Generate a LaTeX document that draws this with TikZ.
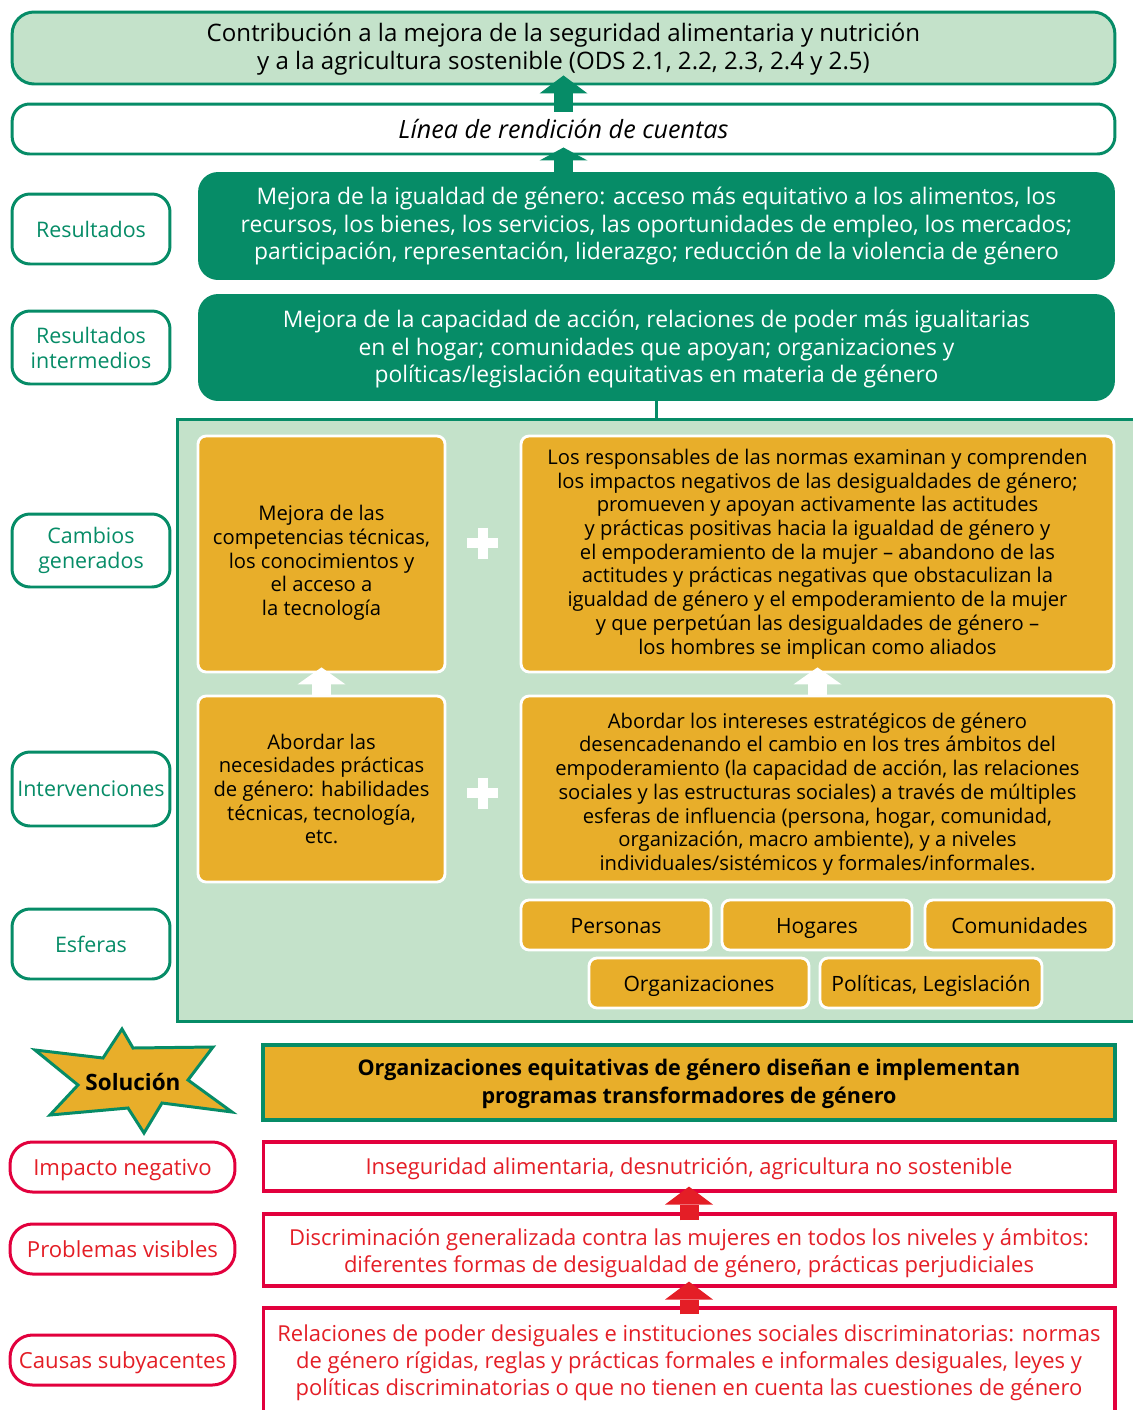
\documentclass[tikz,border=0pt]{standalone}
\usepackage{fontspec}
\setmainfont{Open Sans}
\usetikzlibrary{arrows.meta}

\definecolor{fgreen}{RGB}{6,140,103}
\definecolor{lgreen}{RGB}{196,226,202}
\definecolor{forange}{RGB}{232,174,42}
\definecolor{fred}{RGB}{226,0,61}
\definecolor{tred}{RGB}{228,30,38}

\tikzset{
  tagbox/.style={draw=fgreen, line width=1.7pt, fill=white, rounded corners=0.36cm, text=fgreen,
    minimum width=3.16cm, minimum height=1.4cm, font=\fontsize{12.2}{14.2}\selectfont},
  redtag/.style={draw=fred, line width=1.7pt, fill=white, rounded corners=0.45cm, text=tred,
    minimum width=4.5cm, minimum height=1cm, text height=1.9ex, text depth=0.2ex,
    font=\fontsize{12.6}{14.2}\selectfont},
  redbox/.style={draw=fred, line width=1.8pt, fill=white, text=tred,
    minimum width=17.04cm, font=\fontsize{12.5}{15.4}\selectfont},
  darkbox/.style={fill=fgreen, rounded corners=0.4cm, text=white,
    minimum width=18.34cm, font=\fontsize{13}{15.6}\selectfont},
  orbox/.style={fill=forange, draw=white, line width=1.6pt, rounded corners=0.16cm,
    font=\fontsize{11.5}{13.5}\selectfont},
  sphere/.style={orbox, minimum height=1cm, text height=1.9ex, text depth=0.2ex,
    font=\fontsize{12}{14}\selectfont},
  blockarrow/.style={line width=0.38cm, -{Triangle[width=0.96cm, length=#1, line width=0pt]}}
}

\begin{document}
\begin{tikzpicture}[x=0.02cm, y=-0.02cm, every node/.style={align=center, inner sep=2pt}]
\useasboundingbox (0,0) rectangle (1133,1410);

% background of the middle block
\node[fill=lgreen, minimum width=19.12cm, minimum height=12.06cm, inner sep=0pt, outer sep=0pt] (cbg) at (655,720.5) {};
\draw[fgreen, line width=1.7pt] (cbg.north east) -- (cbg.north west) -- (cbg.south west) -- (cbg.south east);

% top
\node[draw=fgreen, line width=1.7pt, fill=lgreen, rounded corners=0.44cm, minimum width=22.06cm,
  minimum height=1.44cm, font=\fontsize{13.7}{16}\selectfont] (goal) at (563.5,48)
  {\rule{0pt}{12pt}Contribución a la mejora de la seguridad alimentaria y nutrición\\
   y a la agricultura sostenible (ODS 2.1, 2.2, 2.3, 2.4 y 2.5)};
\node[draw=fgreen, line width=1.7pt, fill=white, rounded corners=0.35cm, minimum width=22.06cm,
  minimum height=1cm, font=\fontsize{14.3}{16}\selectfont\itshape] (acc) at (563.5,129)
  {Línea de rendición de cuentas};

% left labels
\node[tagbox] (tres) at (91,229) {Resultados};
\node[tagbox, minimum height=1.46cm] (tint) at (91,347.5) {Resultados\\ intermedios};
\node[tagbox, minimum height=1.46cm] (tcam) at (91,550.5) {Cambios\\ generados};
\node[tagbox, minimum height=1.48cm] (tinv) at (91,789) {Intervenciones};
\node[tagbox] (tesf) at (91,944) {Esferas};

% outcomes
\node[darkbox, minimum height=2.16cm] (res) at (656.5,226)
  {Mejora de la igualdad de género: acceso más equitativo a los alimentos, los\\
   recursos, los bienes, los servicios, las oportunidades de empleo, los mercados;\\
   participación, representación, liderazgo; reducción de la violencia de género};
\node[darkbox, minimum height=2.14cm] (resint) at (656.5,347.5)
  {\rule{0pt}{12pt}Mejora de la capacidad de acción, relaciones de poder más igualitarias\\
   en el hogar; comunidades que apoyan; organizaciones y\\
   políticas/legislación equitativas en materia de género};
\draw[fgreen, line width=1.7pt] (resint.south) -- (resint.south |- cbg.north);

\draw[fgreen, blockarrow=0.36cm] ([yshift=-0.18cm]acc.north) -- ([yshift=0.2cm]goal.south);
\draw[fgreen, blockarrow=0.26cm, shorten <=-0.1cm] (acc.south |- res.north) -- ([yshift=0.16cm]acc.south);

% changes and interventions
\node[orbox, minimum width=4.94cm, minimum height=4.72cm] (capac) at (321.5,554)
  {\rule{0pt}{19pt}Mejora de las\\ competencias técnicas,\\ los conocimientos y\\ el acceso a\\ la tecnología};
\node[orbox, minimum width=11.86cm, minimum height=4.72cm] (normas) at (817.5,554)
  {Los responsables de las normas examinan y comprenden\\
   los impactos negativos de las desigualdades de género;\\
   promueven y apoyan activamente las actitudes\\
   y prácticas positivas hacia la igualdad de género y\\
   el empoderamiento de la mujer – abandono de las\\
   actitudes y prácticas negativas que obstaculizan la\\
   igualdad de género y el empoderamiento de la mujer\\
   y que perpetúan las desigualdades de género –\\
   los hombres se implican como aliados};
\node[orbox, minimum width=4.94cm, minimum height=3.72cm] (practicas) at (321.5,789)
  {Abordar las\\ necesidades prácticas\\ de género: habilidades\\ técnicas, tecnología,\\ etc.};
\node[orbox, minimum width=11.86cm, minimum height=3.72cm] (estrat) at (817.5,789)
  {\rule{0pt}{14.5pt}Abordar los intereses estratégicos de género\\
   desencadenando el cambio en los tres ámbitos del\\
   empoderamiento (la capacidad de acción, las relaciones\\
   sociales y las estructuras sociales) a través de múltiples\\
   esferas de influencia (persona, hogar, comunidad,\\
   organización, macro ambiente), y a niveles\\
   individuales/sistémicos y formales/informales.};

\draw[white, blockarrow=0.34cm] (practicas.north) -- ([yshift=0.12cm]capac.south);
\draw[white, blockarrow=0.34cm] (estrat.north) -- ([yshift=0.12cm]normas.south);
\foreach \y in {543,793}
  \draw[white, line width=0.2cm] (467,\y) -- (498,\y) (482.5,\y-15.5) -- (482.5,\y+15.5);

% spheres
\node[sphere, minimum width=3.8cm] (pers) at (616,925) {Personas};
\node[sphere, minimum width=3.8cm] (hog) at (817,925) {Hogares};
\node[sphere, minimum width=3.78cm] (com) at (1019.5,925) {Comunidades};
\node[sphere, minimum width=4.4cm] (org) at (699,983) {Organizaciones};
\node[sphere, minimum width=4.44cm] (pol) at (931,983) {Políticas, Legislación};

% solution
\filldraw[fill=forange, draw=fgreen, line width=1.7pt] (122,1029) -- (133,1048) -- (213,1047)
  -- (188,1080) -- (232,1112) -- (162,1103) -- (144,1133) -- (128,1108) -- (50,1115)
  -- (78,1085) -- (35,1050) -- (103,1058) -- cycle;
\node[font=\bfseries\fontsize{12.8}{15}\selectfont] (sol) at (133,1082) {Solución};
\node[draw=fgreen, line width=2.2pt, fill=forange, minimum width=17.04cm, minimum height=1.5cm,
  font=\bfseries\fontsize{12.25}{15.9}\selectfont] (solbox) at (689,1082.5)
  {\rule{0pt}{11pt}Organizaciones equitativas de género diseñan e implementan\\ programas transformadores de género};

% problem side
\node[redtag] (timp) at (122.5,1167) {Impacto negativo};
\node[redtag] (tprob) at (122.5,1249) {Problemas visibles};
\node[redtag] (tcaus) at (122.5,1360) {Causas subyacentes};

\node[redbox, minimum height=0.98cm, text height=1.9ex, text depth=0.2ex] (inseg) at (689,1166.5)
  {Inseguridad alimentaria, desnutrición, agricultura no sostenible};
\node[redbox, minimum height=1.44cm] (discr) at (689,1250)
  {\rule{0pt}{13pt}Discriminación generalizada contra las mujeres en todos los niveles y ámbitos:\\
   diferentes formas de desigualdad de género, prácticas perjudiciales};
\node[redbox, minimum height=2.12cm] (causas) at (689,1361)
  {\rule{0pt}{12pt}Relaciones de poder desiguales e instituciones sociales discriminatorias: normas\\
   de género rígidas, reglas y prácticas formales e informales desiguales, leyes y\\
   políticas discriminatorias o que no tienen en cuenta las cuestiones de género};

\draw[tred, blockarrow=0.36cm] ([yshift=-0.16cm]discr.north) -- ([yshift=0.12cm]inseg.south);
\draw[tred, blockarrow=0.36cm] ([yshift=-0.16cm]causas.north) -- ([yshift=0.12cm]discr.south);
\end{tikzpicture}
\end{document}
